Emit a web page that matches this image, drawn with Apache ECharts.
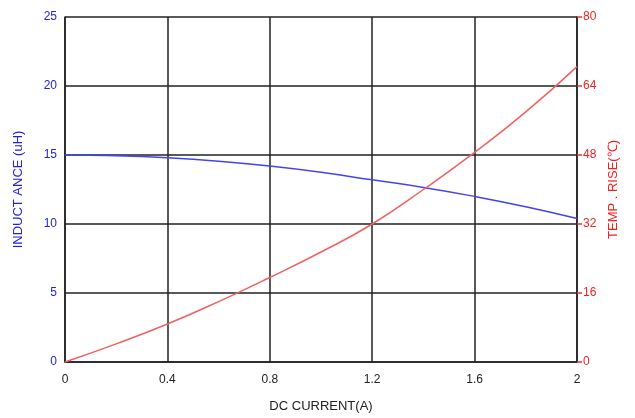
<!DOCTYPE html>
<html><head><meta charset="utf-8">
<script src="https://cdn.jsdelivr.net/npm/echarts@6/dist/echarts.min.js"></script>
<style>html,body{margin:0;padding:0;background:#fff}#c{width:635px;height:418px}</style>
</head><body><div id="c"></div>
<script>
const current = [0, 0.2, 0.4, 0.6, 0.8, 1.0, 1.2, 1.4, 1.6, 1.8, 2.0];
const inductance = [15, 14.95, 14.8, 14.55, 14.2, 13.75, 13.2, 12.65, 12.0, 11.25, 10.4];
const tempRise = [0, 4.2, 8.8, 14, 19.6, 25.5, 32, 40, 48.6, 58, 68.5];
const xTicks = [0, 0.4, 0.8, 1.2, 1.6, 2];
const leftTicks = [0, 5, 10, 15, 20, 25];
const rightTicks = [0, 16, 32, 48, 64, 80];

const font = 'Liberation Sans, Arial, sans-serif';
const chart = echarts.init(document.getElementById('c'));
chart.setOption({
  animation: false,
  backgroundColor: '#fff',
  grid: {left: 65, right: 58, top: 17, bottom: 55, containLabel: false},
  xAxis: {
    type: 'value', min: 0, max: 2, interval: 0.4,
    name: 'DC CURRENT(A)', nameLocation: 'middle', nameGap: 38,
    nameTextStyle: {color: '#222', fontSize: 13, fontFamily: font},
    axisLine: {lineStyle: {color: '#222', width: 1.5}},
    axisTick: {show: false},
    axisLabel: {color: '#222', fontSize: 12, fontFamily: font, margin: 12,
      formatter: v => { const t = xTicks.find(x => Math.abs(x - v) < 1e-6); return t === undefined ? '' : String(t); }},
    splitLine: {show: true, lineStyle: {color: '#222', width: 1.5}}
  },
  yAxis: [{
    type: 'value', min: 0, max: 25, interval: 5, position: 'left',
    name: 'INDUCT ANCE (uH)', nameLocation: 'middle', nameGap: 40, nameRotate: 90,
    nameTextStyle: {color: '#2222dd', fontSize: 13, fontFamily: font},
    axisLine: {show: true, lineStyle: {color: '#222', width: 1.5}},
    axisTick: {show: false},
    axisLabel: {color: '#2222dd', fontSize: 12, fontFamily: font, margin: 8,
      formatter: v => leftTicks.includes(v) ? String(v) : ''},
    splitLine: {show: true, lineStyle: {color: '#222', width: 1.5}}
  }, {
    type: 'value', min: 0, max: 80, interval: 16, position: 'right',
    name: 'TEMP . RISE(\u2103)', nameLocation: 'middle', nameGap: 30, nameRotate: 90,
    nameTextStyle: {color: '#ee2222', fontSize: 13, fontFamily: font},
    axisLine: {show: true, lineStyle: {color: '#222', width: 1.5}},
    axisTick: {show: true, length: 5, lineStyle: {color: '#ee3333', width: 1.5}},
    axisLabel: {color: '#ee2222', fontSize: 12, fontFamily: font, margin: 6,
      formatter: v => rightTicks.includes(v) ? String(v) : ''},
    splitLine: {show: false}
  }],
  series: [{
    type: 'line', yAxisIndex: 0, smooth: true, symbol: 'none',
    data: current.map((x, i) => [x, inductance[i]]),
    lineStyle: {color: '#4444ee', width: 1.5}, z: 5
  }, {
    type: 'line', yAxisIndex: 1, smooth: true, symbol: 'none',
    data: current.map((x, i) => [x, tempRise[i]]),
    lineStyle: {color: '#f06060', width: 1.5}, z: 5
  }]
});
</script></body></html>
